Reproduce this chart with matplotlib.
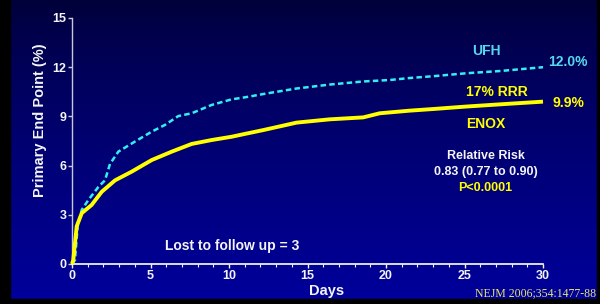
import numpy as np
import matplotlib.pyplot as plt
from matplotlib.ticker import MultipleLocator

plt.rcParams['font.family'] = ['Liberation Sans', 'DejaVu Sans']
plt.rcParams['font.weight'] = 'bold'

# UFH curve
ufh_days = [0, 0.19, 0.36, 0.62, 1.04, 1.68, 2.1, 2.42, 2.95, 4.0, 5.08, 5.92, 6.77,
            7.62, 8.9, 10.17, 11.0, 12.4, 14.3, 16.4, 18.55, 20.25, 21.5, 23.0, 25.1,
            27.3, 30.0]
ufh_vals = [0, 0.24, 2.3, 3.3, 3.9, 4.7, 5.1, 6.1, 6.85, 7.46, 8.07, 8.48, 9.02,
            9.19, 9.7, 10.04, 10.16, 10.4, 10.7, 10.94, 11.13, 11.22, 11.34, 11.45, 11.63,
            11.77, 12.0]

# ENOX curve
enox_days = [0, 0.08, 0.3, 0.62, 1.25, 1.89, 2.74, 3.8, 5.08, 6.35, 7.62, 8.9, 10.17,
             11.0, 12.2, 14.3, 16.4, 18.55, 19.6, 21.5, 23.0, 25.1, 27.5, 30.0]
enox_vals = [0, 0.24, 2.3, 3.1, 3.6, 4.4, 5.1, 5.63, 6.34, 6.85, 7.32, 7.56, 7.76,
             7.93, 8.17, 8.62, 8.82, 8.94, 9.19, 9.35, 9.45, 9.6, 9.75, 9.9]

yticks = [0, 3, 6, 9, 12, 15]
xticks = [0, 5, 10, 15, 20, 25, 30]

cyan = '#33f0f0'
yellow = '#ffff00'
white = '#f4f4f4'

fig = plt.figure(figsize=(6, 3.04), dpi=100)

# gradient background
bg = fig.add_axes([0, 0, 1, 1], zorder=-10)
grad = np.linspace(0, 1, 256).reshape(-1, 1)
top = np.array([0x01, 0x01, 0x38]) / 255
bot = np.array([0x00, 0x00, 0x9c]) / 255
img = top + (bot - top) * grad[..., None] ** 0.75
bg.imshow(img, aspect='auto', extent=[0, 1, 0, 1], origin='upper')
bg.axhspan(0, 5 / 304, color='black')
bg.axvspan(0, 10 / 600, color='black')
bg.axvspan(1 - 3 / 600, 1, color='black')
bg.set_xlim(0, 1)
bg.set_ylim(0, 1)
bg.axis('off')

ax = fig.add_axes([72 / 600, 40 / 304, 471 / 600, 246 / 304])
ax.patch.set_alpha(0)
ax.plot(enox_days, enox_vals, color=yellow, lw=2.8, solid_capstyle='butt', clip_on=False, zorder=3)
ax.plot(ufh_days, ufh_vals, color=cyan, lw=1.8, ls=(0, (2.2, 1.3)), clip_on=False, zorder=2)

ax.set_xlim(0, 30)
ax.set_ylim(0, 15)
ax.set_xticks(xticks)
ax.set_yticks(yticks)
ax.xaxis.set_minor_locator(MultipleLocator(1))
for s in ['top', 'right']:
    ax.spines[s].set_visible(False)
ax.spines['left'].set_color('#c8c8d8')
ax.spines['bottom'].set_color('white')
ax.spines['left'].set_linewidth(1)
ax.spines['bottom'].set_linewidth(1.2)
ax.tick_params(axis='both', colors=white, labelsize=9, width=1, length=3, pad=1)
ax.tick_params(axis='x', which='minor', colors=white, length=2, width=0.8)
ax.tick_params(axis='y', colors='#c8c8d8', labelcolor=white)
for lab in ax.get_xticklabels() + ax.get_yticklabels():
    lab.set_fontweight('bold')

ax.set_ylabel('Primary End Point (%)', color=white, fontsize=10.5, fontweight='bold')
ax.yaxis.set_label_coords(-0.054, 0.585)
fig.text(327 / 600, 1 - 291 / 304, 'Days', color=white, fontsize=10.5, fontweight='bold',
         ha='center', va='center')

def t(x, y, s, c, fs=10, **kw):
    fig.text(x / 600, 1 - y / 304, s, color=c, fontsize=fs, fontweight='bold',
             ha='center', va='center', **kw)

t(486, 51, 'UFH', '#55d8ea')
t(568, 62, '12.0%', '#55d8ea')
t(497, 92, '17% RRR', yellow)
t(568, 103, '9.9%', yellow)
t(486, 124, 'ENOX', yellow)
t(486, 156, 'Relative Risk', white, 9)
t(486, 172, '0.83 (0.77 to 0.90)', white, 9)
t(485, 188, 'P<0.0001', yellow, 9)
t(232, 246, 'Lost to follow up = 3', white, 10)

fig.text(596 / 600, 1 - 293 / 304, 'NEJM 2006;354:1477-88', color='#e6e66a', fontsize=8.5,
         family='Liberation Serif', fontweight='normal', ha='right', va='center')

plt.savefig('out.png', dpi=100)
